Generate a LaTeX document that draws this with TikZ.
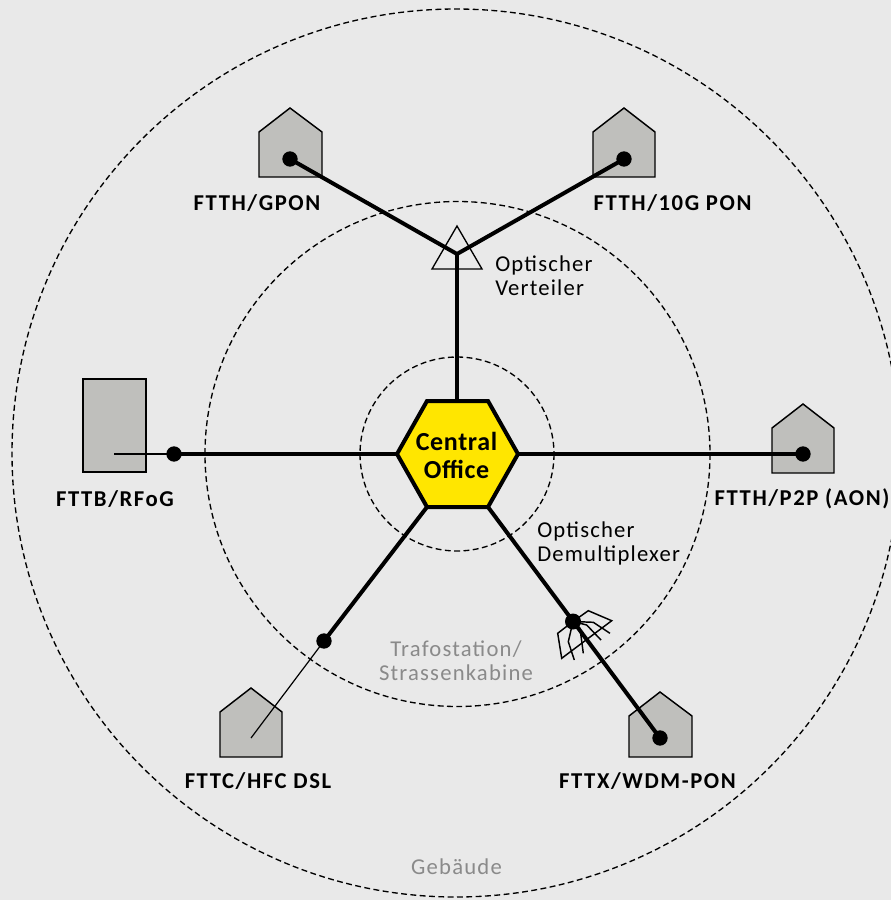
\documentclass[tikz,border=0pt]{standalone}
\usepackage{fontspec}
\setmainfont{Carlito}
\newfontface\lblbold[LetterSpace=7]{Carlito Bold}
\newfontface\lblreg[LetterSpace=5.3]{Carlito}
\newfontface\lblcenter[LetterSpace=2.5]{Carlito Bold}
\definecolor{bgc}{HTML}{E9E9E9}
\definecolor{bldg}{HTML}{BFBFBC}
\definecolor{hex}{HTML}{FFE600}
\definecolor{lbl}{HTML}{8A8A8A}
\tikzset{
  ring/.style={draw=black,dashed,dash pattern=on 4.4pt off 2.6pt,line width=1pt},
  bldgshape/.style={draw=black,fill=bldg,line width=1.1pt,line join=miter},
  fiber/.style={draw=black,line width=3pt},
  drop/.style={draw=black,line width=0.9pt},
  dotn/.style={circle,fill=black,inner sep=0pt,minimum size=11.5pt},
  boldlbl/.style={font=\fontsize{17}{18}\lblbold,text=black,inner sep=0pt},
  plain/.style={font=\fontsize{17}{18}\lblreg,text=black,inner sep=0pt,align=left,anchor=west},
  grey/.style={font=\fontsize{17}{18}\lblreg,text=lbl,inner sep=0pt,align=center},
}
\begin{document}
\begin{tikzpicture}[x=0.75pt,y=-0.75pt,line join=miter]
\useasboundingbox (0,0) rectangle (891,900);
\fill[bgc] (0,0) rectangle (891,900);
\begin{scope}
\clip (0,0) rectangle (891,900);
\draw[ring] (456,453) circle[radius=444];
\draw[ring] (457.5,454) circle[radius=252.5];
\draw[ring] (457,454) circle[radius=97];
\end{scope}
% buildings
\draw[bldgshape] (259,132) -- (290,108) -- (322,132) -- (322,177) -- (259,177) -- cycle;
\draw[bldgshape] (593,132) -- (624,108) -- (655,132) -- (655,177) -- (593,177) -- cycle;
\draw[bldgshape] (772,428) -- (803,404) -- (834,428) -- (834,473) -- (772,473) -- cycle;
\draw[bldgshape] (220,712) -- (251,688) -- (282,712) -- (282,757) -- (220,757) -- cycle;
\draw[bldgshape] (629,716) -- (660,692) -- (692,716) -- (692,757) -- (629,757) -- cycle;
\draw[bldgshape] (83,379) rectangle (146,472);
% splitter triangle
\draw[draw=black,line width=1pt] (457,226) -- (482,269) -- (432,269) -- cycle;
% central office
\coordinate (hw) at (397,454);
\coordinate (hnwc) at (427,401);
\coordinate (hnec) at (488,401);
\coordinate (he) at (518,454);
\coordinate (hsec) at (488,507);
\coordinate (hswc) at (427,507);
\coordinate (htop) at (457,401);
% points
\node[dotn] (gpon) at (290,159) {};
\node[dotn] (xgpon) at (624,159) {};
\node[dotn] (p2p) at (803,454) {};
\node[dotn] (rfog) at (174,454) {};
\node[dotn] (hfc) at (324,641) {};
\node[dotn] (wdm) at (660,738) {};
\node[dotn,minimum size=12pt] (demux) at (573,621.5) {};
\coordinate (split) at (457,254);
\coordinate (rfogend) at (114,454);
\coordinate (dslend) at (251,738);
% fibers
\draw[fiber] (htop) -- (split);
\draw[fiber] (gpon.center) -- (split) -- (xgpon.center);
\draw[fiber] (he) -- (p2p.center);
\draw[fiber] (hw) -- (rfog.center);
\draw[fiber] (hswc) -- (hfc.center);
\draw[fiber] (hsec) -- (wdm.center);
\draw[drop] (rfog.center) -- (rfogend);
\draw[drop] (hfc.center) -- (dslend);
% demux fan
\begin{scope}[line width=1.1pt,draw=black]
\draw (demux.center) -- (588.3,610.7) -- (611.7,620.7) -- (561.7,658.3) -- (557.7,633.3) -- (demux.center);
\draw (demux.center) -- (593.3,622.3) -- (610,633.3);
\draw (demux.center) -- (586.7,625) -- (601,640);
\draw (demux.center) -- (580,628.3) -- (583.3,653.3);
\draw (demux.center) -- (568.3,641.7) -- (574.3,660);
\end{scope}
\draw[draw=black,fill=hex,line width=3pt] (hw) -- (hnwc) -- (hnec) -- (he) -- (hsec) -- (hswc) -- cycle;
\node[font=\fontsize{19.5}{21}\lblcenter,align=center,inner sep=0pt] (colabel) at (456.5,455) {Central\\Office};
% labels
\node[boldlbl] (l1) at (257,203) {FTTH/GPON};
\node[boldlbl] (l2) at (672.5,203) {FTTH/10G PON};
\node[boldlbl] (l3) at (802,499) {FTTH/P2P (AON)};
\node[boldlbl] (l4) at (115,499) {FTTB/RFoG};
\node[boldlbl] (l5) at (258,781) {FTTC/HFC DSL};
\node[boldlbl] (l6) at (647.5,781) {FTTX/WDM-PON};
\node[plain] (t1) at (495,276) {Optischer\\Verteiler};
\node[plain] (t2) at (537,543) {Optischer\\Demultiplexer};
\node[grey] (t3) at (456,661) {Trafostation/\\Strassenkabine};
\node[grey] (t4) at (456.5,867) {Gebäude};
\end{tikzpicture}
\end{document}
